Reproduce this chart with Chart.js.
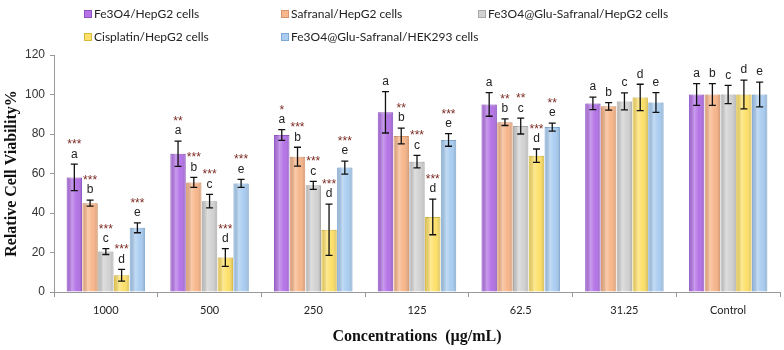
<!DOCTYPE html>
<html>
<head>
<meta charset="utf-8">
<script src="https://cdn.jsdelivr.net/npm/chart.js@4.4.1/dist/chart.umd.min.js"></script>
<style>
  body { margin: 0; background: #fff; }
  #wrap { width: 784px; height: 350px; }
</style>
</head>
<body>
<div id="wrap"><canvas id="cellChart"></canvas></div>
<script>
const categories = ['1000', '500', '250', '125', '62.5', '31.25', 'Control'];
const seriesNames = ['Fe3O4/HepG2 cells', 'Safranal/HepG2 cells', 'Fe3O4@Glu-Safranal/HepG2 cells',
  'Cisplatin/HepG2 cells', 'Fe3O4@Glu-Safranal/HEK293 cells'];

const fe3o4 = [58, 70, 79.5, 91, 95, 95.5, 100];
const fe3o4Err = [6.7, 6.4, 2.7, 10.5, 6, 3.2, 5.5];
const safranal = [45, 55.5, 68.5, 79, 86, 94, 100];
const safranalErr = [1.5, 2.5, 4.8, 4, 1.7, 1.9, 5.5];
const gluSafranal = [20.5, 46, 54, 66, 84, 96.5, 100];
const gluSafranalErr = [1.5, 3.4, 2, 3.2, 4, 4.3, 4.6];
const cisplatin = [8.5, 17.5, 31.5, 38, 69, 98.5, 100];
const cisplatinErr = [3, 4.5, 13, 9, 3.4, 6.7, 7.3];
const hek293 = [32.5, 55, 63, 77, 83.5, 96, 100];
const hek293Err = [2.5, 2, 3.3, 3.2, 2, 5, 6.3];

const letters = ['a', 'b', 'c', 'd', 'e'];
const fe3o4Stars = ['***', '**', '*', '', '', '', ''];
const safranalStars = ['***', '***', '***', '**', '**', '', ''];
const gluSafranalStars = ['***', '***', '***', '***', '**', '', ''];
const cisplatinStars = ['***', '***', '***', '***', '***', '', ''];
const hek293Stars = ['***', '***', '***', '***', '**', '', ''];

const yTicks = [0, 20, 40, 60, 80, 100, 120];

const fills = ['#b474e6', '#f7b68b', '#d2d2d2', '#fde06a', '#aacdf1'];
const edges = ['#8e52c4', '#d9956a', '#a9a9a9', '#d9b93c', '#7fa9d4'];

const values = [fe3o4, safranal, gluSafranal, cisplatin, hek293];
const errors = [fe3o4Err, safranalErr, gluSafranalErr, cisplatinErr, hek293Err];
const stars = [fe3o4Stars, safranalStars, gluSafranalStars, cisplatinStars, hek293Stars];

// error bars, shading and the a-e / star marks
const marksPlugin = {
  id: 'marks',
  afterDatasetsDraw(chart) {
    const ctx = chart.ctx;
    const y = chart.scales.y;
    chart.data.datasets.forEach((ds, di) => {
      const meta = chart.getDatasetMeta(di);
      meta.data.forEach((bar, i) => {
        const half = bar.width / 2;
        const left = bar.x - half, right = bar.x + half;
        // cylinder-ish shading
        const g = ctx.createLinearGradient(left, 0, right, 0);
        g.addColorStop(0, 'rgba(0,0,0,0.10)');
        g.addColorStop(0.35, 'rgba(255,255,255,0.28)');
        g.addColorStop(0.65, 'rgba(255,255,255,0)');
        g.addColorStop(1, 'rgba(0,0,0,0.18)');
        ctx.fillStyle = g;
        ctx.fillRect(left + 1, bar.y, bar.width - 2, bar.base - bar.y);

        const v = values[di][i], e = errors[di][i];
        const top = y.getPixelForValue(v + e);
        const bot = y.getPixelForValue(v - e);
        ctx.save();
        ctx.strokeStyle = '#111';
        ctx.lineWidth = 1.3;
        ctx.beginPath();
        ctx.moveTo(bar.x, top); ctx.lineTo(bar.x, bot);
        ctx.moveTo(bar.x - 3.5, top); ctx.lineTo(bar.x + 3.5, top);
        ctx.moveTo(bar.x - 3.5, bot); ctx.lineTo(bar.x + 3.5, bot);
        ctx.stroke();

        const letterY = top - 10;
        ctx.fillStyle = '#222';
        ctx.font = '12px "Liberation Sans", Arial, sans-serif';
        ctx.textAlign = 'center';
        ctx.textBaseline = 'middle';
        ctx.fillText(letters[di], bar.x, letterY);

        const s = stars[di][i];
        if (s) {
          ctx.fillStyle = '#7a2a22';
          ctx.font = '12px "Liberation Sans", Arial, sans-serif';
          ctx.textBaseline = 'alphabetic';
          ctx.fillText(s, bar.x, letterY - 13 + 7);
        }
        ctx.restore();
      });
    });
  },
  afterDraw(chart) {
    const ctx = chart.ctx;
    ctx.save();
    ctx.font = '12px Lato, "Open Sans", sans-serif';
    ctx.textBaseline = 'middle';
    ctx.textAlign = 'left';
    chart.data.datasets.forEach((ds, di) => {
      const col = di % 3, row = Math.floor(di / 3);
      const x = 88 + col * 197, yy = 14 + row * 23;
      ctx.fillStyle = fills[di];
      ctx.fillRect(x - 4, yy - 4, 8, 8);
      ctx.strokeStyle = edges[di];
      ctx.lineWidth = 1;
      ctx.strokeRect(x - 3.5, yy - 3.5, 7, 7);
      ctx.fillStyle = '#222';
      ctx.fillText(ds.label, x + 6, yy);
    });
    ctx.restore();
  }
};

const data = {
  labels: categories,
  datasets: seriesNames.map((name, k) => ({
    label: name,
    data: values[k],
    backgroundColor: fills[k],
    borderColor: edges[k],
    borderWidth: 1,
    categoryPercentage: 0.76,
    barPercentage: 0.98
  }))
};

const config = {
  type: 'bar',
  data: data,
  options: {
    responsive: true,
    maintainAspectRatio: false,
    animation: false,
    layout: { padding: { top: 55, right: 4, left: 0, bottom: 0 } },
    plugins: {
      legend: { display: false },
      tooltip: { enabled: false }
    },
    scales: {
      x: {
        afterFit(scale) { scale.height = 58; },
        grid: { drawOnChartArea: false, drawTicks: true, tickLength: 5, color: '#999', offset: true },
        border: { color: '#999' },
        ticks: { color: '#222', padding: 7, font: { family: 'Lato, "Open Sans", sans-serif', size: 11 } },
        title: {
          display: true,
          text: 'Concentrations  (µg/mL)',
          color: '#111',
          padding: { top: 0, bottom: 4 },
          font: { family: '"Liberation Serif", "Times New Roman", serif', size: 16, weight: 'bold' }
        }
      },
      y: {
        min: 0,
        max: 120,
        afterFit(scale) { scale.width = 54; },
        afterBuildTicks(scale) { scale.ticks = yTicks.map(v => ({ value: v })); },
        grid: { drawOnChartArea: false, drawTicks: true, tickLength: 4, color: '#999' },
        border: { color: '#999' },
        ticks: { color: '#333', padding: 5, font: { family: '"Liberation Sans", Arial, sans-serif', size: 12 } },
        title: {
          display: true,
          text: 'Relative Cell Viability%',
          color: '#111',
          padding: { top: 2, bottom: 0 },
          font: { family: '"Liberation Serif", "Times New Roman", serif', size: 16, weight: 'bold' }
        }
      }
    }
  },
  plugins: [marksPlugin]
};

new Chart(document.getElementById('cellChart'), config);
</script>
</body>
</html>
